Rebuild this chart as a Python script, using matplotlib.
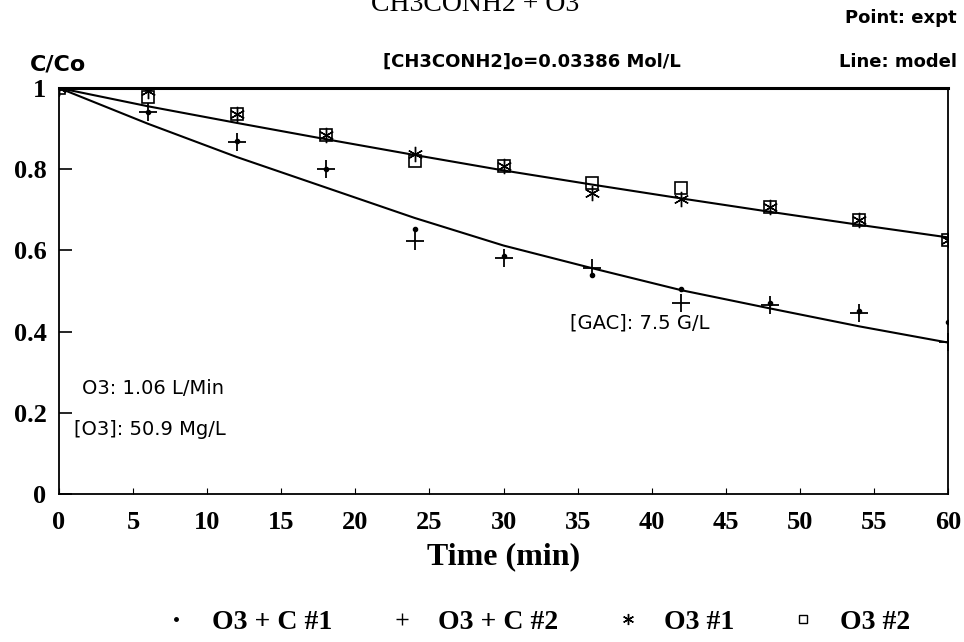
import matplotlib
matplotlib.use("Agg")
import matplotlib.pyplot as plt
from matplotlib.lines import Line2D

# ---- data ----
t_expt = [0, 6, 12, 18, 24, 30, 36, 42, 48, 54, 60]
o3c_1 = [1.0, 0.94, 0.87, 0.80, 0.653, 0.585, 0.54, 0.505, 0.47, 0.45, 0.424]
o3c_2 = [1.0, 0.94, 0.866, 0.80, 0.622, 0.581, 0.556, 0.471, 0.465, 0.445, 0.375]
o3_1 = [1.0, 0.993, 0.935, 0.884, 0.837, 0.808, 0.742, 0.727, 0.706, 0.674, 0.626]
o3_2 = [1.0, 0.977, 0.935, 0.884, 0.82, 0.808, 0.767, 0.754, 0.706, 0.674, 0.626]

t_model = [0, 6, 12, 18, 24, 30, 36, 42, 48, 54, 60]
model_o3 = [1.0, 0.955, 0.914, 0.874, 0.835, 0.797, 0.762, 0.728, 0.695, 0.663, 0.632]
model_o3c = [1.0, 0.912, 0.830, 0.755, 0.680, 0.612, 0.556, 0.502, 0.457, 0.413, 0.373]

x_ticks = [0, 5, 10, 15, 20, 25, 30, 35, 40, 45, 50, 55, 60]
y_ticks = [0, 0.2, 0.4, 0.6, 0.8, 1.0]
y_tick_labels = ["0", "0.2", "0.4", "0.6", "0.8", "1"]

legend_labels = ["O3 + C #1", "O3 + C #2", "O3 #1", "O3 #2"]

W, H = 964, 642
fig = plt.figure(figsize=(W / 100, H / 100), dpi=100)
ax = fig.add_axes([59 / W, 1 - 494 / H, (948 - 59) / W, (494 - 88) / H])

serif = "Liberation Serif"
sans = "DejaVu Sans"

ax.plot(t_model, model_o3, color="black", lw=1.5)
ax.plot(t_model, model_o3c, color="black", lw=1.5)

ast = (6, 2, 0)
ax.plot(t_expt, o3c_1, ls="none", marker="o", ms=3, color="black")
ax.plot(t_expt, o3c_2, ls="none", marker="+", ms=13, mew=1.3, color="black")
ax.plot(t_expt, o3_1, ls="none", marker=ast, ms=11, mew=1.0, color="black")
ax.plot(t_expt, o3_2, ls="none", marker="s", ms=9, mew=1.2, mfc="none", mec="black")

ax.set_xlim(0, 60)
ax.set_ylim(0, 1)
ax.set_xticks(x_ticks)
ax.set_yticks(y_ticks)
ax.set_yticklabels(y_tick_labels)
for lab in ax.get_xticklabels() + ax.get_yticklabels():
    lab.set_fontfamily(serif)
    lab.set_fontweight("bold")
    lab.set_fontsize(19)
ax.tick_params(axis="x", direction="in", length=4, width=0.8, pad=12)
ax.tick_params(axis="y", direction="in", length=9, width=1.2, pad=9)
for s in ["left", "bottom", "right"]:
    ax.spines[s].set_linewidth(1.3)
ax.spines["top"].set_linewidth(2.2)

ax.set_xlabel("Time (min)", fontfamily=serif, fontsize=23, fontweight="bold", labelpad=6)

# in-plot annotations
ann_kw = dict(fontfamily=sans, fontsize=14, va="center", ha="left")
ax.text(34.5, 0.42, "[GAC]: 7.5 G/L", **ann_kw)
ax.text(1.55, 0.26, "O3: 1.06 L/Min", **ann_kw)
ax.text(1.0, 0.158, "[O3]: 50.9 Mg/L", **ann_kw)

# figure texts
fig.text(475 / W, 1 - 11 / H, "CH3CONH2 + O3", fontfamily=serif, fontsize=20,
         ha="center", va="baseline")
fig.text(957 / W, 1 - 18 / H, "Point: expt", fontfamily=sans, fontweight="bold",
         fontsize=13, ha="right", va="center")
fig.text(957 / W, 1 - 62 / H, "Line: model", fontfamily=sans, fontweight="bold",
         fontsize=13, ha="right", va="center")
fig.text(383 / W, 1 - 62 / H, "[CH3CONH2]o=0.03386 Mol/L", fontfamily=sans,
         fontweight="bold", fontsize=13, ha="left", va="center")
fig.text(30 / W, 1 - 64 / H, "C/Co", fontfamily=sans, fontweight="bold",
         fontsize=16, ha="left", va="center")

handles = [
    Line2D([], [], ls="none", marker="o", ms=2.5, color="black"),
    Line2D([], [], ls="none", marker="+", ms=8, mew=1.0, color="black"),
    Line2D([], [], ls="none", marker=ast, ms=8, mew=1.0, color="black"),
    Line2D([], [], ls="none", marker="s", ms=6, mew=1.0, mfc="none", mec="black"),
]
leg = fig.legend(handles, legend_labels, loc="center", bbox_to_anchor=(0.556, 1 - 622 / H),
                 ncol=4, frameon=False,
                 prop={"family": serif, "size": 20, "weight": "bold"},
                 handlelength=1.0, handletextpad=0.8, columnspacing=2.0)

fig.savefig("out.png", dpi=100)
